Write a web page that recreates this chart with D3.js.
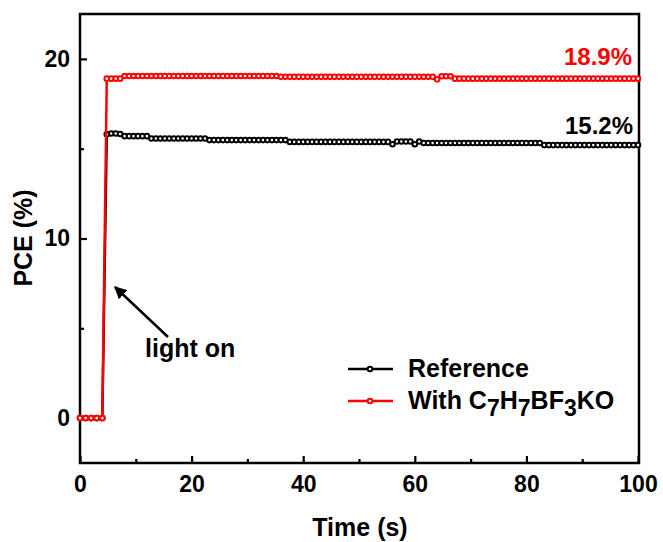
<!DOCTYPE html>
<html>
<head>
<meta charset="utf-8">
<script src="https://cdn.jsdelivr.net/npm/d3@7"></script>
<style>
body { margin: 0; background: #fff; }
text { font-family: "Liberation Sans", Arial, sans-serif; font-weight: bold; }
</style>
</head>
<body>
<svg id="myGraph" width="663" height="542"></svg>
<script>
// time (s)
var timeData = [
0,1,2,3,4,4.8,5.6,6.4,7.2,8,
8.8,9.6,10.4,11.2,12,12.8,13.6,14.4,15.2,16,
16.8,17.6,18.4,19.2,20,20.8,21.6,22.4,23.2,24,
24.8,25.6,26.4,27.2,28,28.8,29.6,30.4,31.2,32,
32.8,33.6,34.4,35.2,36,36.8,37.6,38.4,39.2,40,
40.8,41.6,42.4,43.2,44,44.8,45.6,46.4,47.2,48,
48.8,49.6,50.4,51.2,52,52.8,53.6,54.4,55.2,56,
56.8,57.6,58.4,59.2,60,60.8,61.6,62.4,63.2,64,
64.8,65.6,66.4,67.2,68,68.8,69.6,70.4,71.2,72,
72.8,73.6,74.4,75.2,76,76.8,77.6,78.4,79.2,80,
80.8,81.6,82.4,83.2,84,84.8,85.6,86.4,87.2,88,
88.8,89.6,90.4,91.2,92,92.8,93.6,94.4,95.2,96,
96.8,97.6,98.4,99.2,100
];

// Reference PCE (%)
var refData = [
0,0,0,0,0,15.8,15.85,15.85,15.82,15.7,
15.7,15.7,15.7,15.7,15.7,15.57,15.57,15.57,15.57,15.57,
15.57,15.57,15.57,15.57,15.57,15.57,15.57,15.57,15.48,15.48,
15.48,15.48,15.48,15.48,15.48,15.48,15.48,15.48,15.48,15.48,
15.48,15.48,15.48,15.48,15.48,15.48,15.38,15.38,15.38,15.38,
15.38,15.38,15.38,15.38,15.38,15.38,15.38,15.38,15.38,15.38,
15.38,15.38,15.38,15.38,15.38,15.38,15.38,15.38,15.38,15.25,
15.4,15.4,15.4,15.4,15.25,15.4,15.32,15.32,15.32,15.32,
15.32,15.32,15.32,15.32,15.32,15.32,15.32,15.32,15.32,15.32,
15.32,15.32,15.32,15.32,15.32,15.32,15.32,15.32,15.32,15.32,
15.32,15.32,15.32,15.2,15.2,15.2,15.2,15.2,15.2,15.2,
15.2,15.2,15.2,15.2,15.2,15.2,15.2,15.2,15.2,15.2,
15.2,15.2,15.2,15.2,15.2
];

// With C7H7BF3KO PCE (%)
var withData = [
0,0,0,0,0,18.9,18.9,18.9,18.9,19.05,
19.05,19.05,19.05,19.05,19.05,19.05,19.05,19.05,19.05,19.05,
19.05,19.05,19.05,19.05,19.05,19.05,19.05,19.05,19.05,19.05,
19.05,19.05,19.05,19.05,19.05,19.05,19.05,19.05,19.05,19.05,
19.05,19.05,19.05,19.05,19.0,19.0,19.0,19.0,19.0,19.0,
19.0,19.0,19.0,19.0,19.0,19.0,19.0,19.0,19.0,19.0,
19.0,19.0,19.0,19.0,19.0,19.0,19.0,19.0,19.0,19.0,
19.0,19.0,19.0,19.0,19.0,19.0,19.0,19.0,19.0,18.86,
19.03,19.03,19.03,18.9,18.9,18.9,18.9,18.9,18.9,18.9,
18.9,18.9,18.9,18.9,18.9,18.9,18.9,18.9,18.9,18.9,
18.9,18.9,18.9,18.9,18.9,18.9,18.9,18.9,18.9,18.9,
18.9,18.9,18.9,18.9,18.9,18.9,18.9,18.9,18.9,18.9,
18.9,18.9,18.9,18.9,18.9
];

var xTicks = [0,20,40,60,80,100];
var xMinor = [10,30,50,70,90];
var yTicks = [0,10,20];
var yMinor = [5,15];

var svg = d3.select("#myGraph");
var pL = 80, pR = 638, pT = 14, pB = 463;

var x = d3.scaleLinear().domain([0,100]).range([pL,pR]);
var y = d3.scaleLinear().domain([-2.5,22.5]).range([pB,pT]);

// 축 (ticks inward)
svg.append("g").attr("transform","translate(0,"+pB+")")
.call(d3.axisBottom(x).tickValues(xTicks).tickSize(-7).tickPadding(13).tickFormat(d3.format("d")))
.call(g => g.select(".domain").remove())
.call(g => g.selectAll("text").attr("font-size","23px").attr("fill","#000"))
.call(g => g.selectAll("line").attr("stroke-width",2.2));

svg.append("g").attr("transform","translate(0,"+pB+")")
.call(d3.axisBottom(x).tickValues(xMinor).tickSize(-4).tickFormat(""))
.call(g => g.select(".domain").remove())
.call(g => g.selectAll("line").attr("stroke-width",2.2));

svg.append("g").attr("transform","translate("+pL+",0)")
.call(d3.axisLeft(y).tickValues(yTicks).tickSize(-7).tickPadding(10).tickFormat(d3.format("d")))
.call(g => g.select(".domain").remove())
.call(g => g.selectAll("text").attr("font-size","23px").attr("fill","#000"))
.call(g => g.selectAll("line").attr("stroke-width",2.2));

svg.append("g").attr("transform","translate("+pL+",0)")
.call(d3.axisLeft(y).tickValues(yMinor).tickSize(-4).tickFormat(""))
.call(g => g.select(".domain").remove())
.call(g => g.selectAll("line").attr("stroke-width",2.2));

// 프레임
svg.append("rect")
.attr("x",pL).attr("y",pT)
.attr("width",pR-pL+1).attr("height",pB-pT)
.attr("fill","none").attr("stroke","#000").attr("stroke-width",2.5);

// 선 + 마커
function drawSeries(vals, color)
{
var pts = timeData.map((t,i) => [t, vals[i]]);
var line = d3.line().x(d => x(d[0])).y(d => y(d[1]));
svg.append("path").datum(pts)
.attr("d",line).attr("fill","none")
.attr("stroke",color).attr("stroke-width",2.5);
svg.append("g").selectAll("circle").data(pts).enter()
.append("circle")
.attr("cx",d => x(d[0])).attr("cy",d => y(d[1]))
.attr("r",2.3)
.attr("fill","#fff").attr("stroke",color).attr("stroke-width",2);
}
drawSeries(refData,"#000");
drawSeries(withData,"#ff0000");

// 축 제목
svg.append("text").attr("x",(pL+pR)/2+1).attr("y",536)
.attr("text-anchor","middle").attr("font-size","25px").text("Time (s)");
svg.append("text").attr("transform","translate(32,238) rotate(-90)")
.attr("text-anchor","middle").attr("font-size","25px").text("PCE (%)");

// 값 라벨
svg.append("text").attr("x",632).attr("y",65).attr("text-anchor","end")
.attr("font-size","24px").attr("fill","#ff0000").text("18.9%");
svg.append("text").attr("x",633).attr("y",134).attr("text-anchor","end")
.attr("font-size","24px").attr("fill","#000").text("15.2%");

// light on 화살표
svg.append("defs").append("marker")
.attr("id","arrow").attr("viewBox","0 0 10 10").attr("refX",9).attr("refY",5)
.attr("markerWidth",5).attr("markerHeight",5).attr("orient","auto")
.append("path").attr("d","M0,0 L10,5 L0,10 z").attr("fill","#000");
svg.append("line").attr("x1",168).attr("y1",337).attr("x2",115).attr("y2",287)
.attr("stroke","#000").attr("stroke-width",2.5).attr("marker-end","url(#arrow)");
svg.append("text").attr("x",145).attr("y",357).attr("font-size","25px").text("light on");

// 범례
var legend = svg.append("g");
var legendColors = ["#000","#ff0000"];
[369,401].forEach(function(ly,i){
legend.append("line").attr("x1",348).attr("x2",393).attr("y1",ly).attr("y2",ly)
.attr("stroke",legendColors[i]).attr("stroke-width",2.5);
legend.append("circle").attr("cx",370).attr("cy",ly).attr("r",2.3)
.attr("fill","#fff").attr("stroke",legendColors[i]).attr("stroke-width",2);
});
legend.append("text").attr("x",408).attr("y",377).attr("font-size","25px").text("Reference");
var t2 = legend.append("text").attr("x",408).attr("y",409).attr("font-size","25px");
t2.append("tspan").text("With C");
t2.append("tspan").attr("dy",7).attr("font-size","23px").text("7");
t2.append("tspan").attr("dy",-7).text("H");
t2.append("tspan").attr("dy",7).attr("font-size","23px").text("7");
t2.append("tspan").attr("dy",-7).text("BF");
t2.append("tspan").attr("dy",7).attr("font-size","23px").text("3");
t2.append("tspan").attr("dy",-7).text("KO");
</script>
</body>
</html>
